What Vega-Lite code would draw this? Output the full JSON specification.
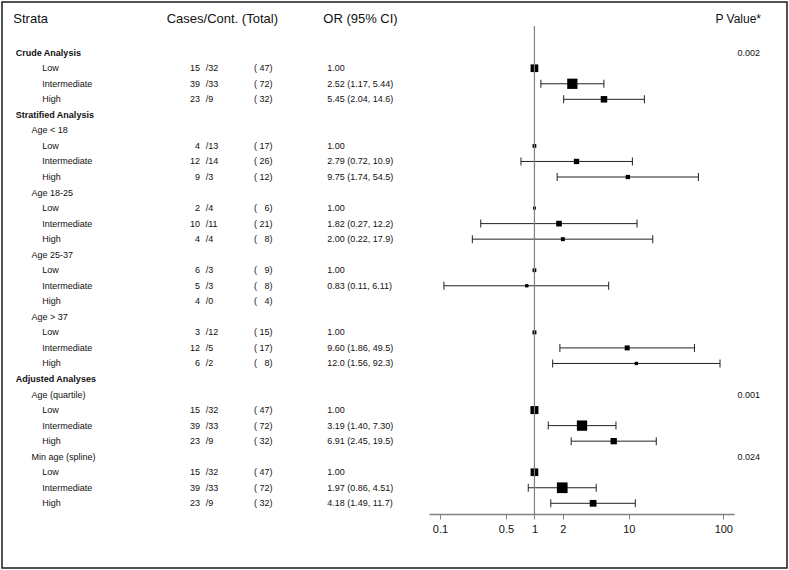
{
  "$schema": "https://vega.github.io/schema/vega-lite/v6.json",
  "width": 785,
  "height": 566,
  "autosize": {"type": "none"},
  "padding": {"left": 2, "top": 2, "right": 2, "bottom": 2},
  "background": "white",
  "config": {
    "view": {"stroke": "#1a1a1a", "strokeWidth": 1.5},
    "text": {"font": "Liberation Sans", "fontSize": 9, "baseline": "middle", "color": "#111111"}
  },
  "datasets": {
    "rows": [
      {"row": 1, "label": "Crude Analysis", "level": 0, "p": "0.002"},
      {"row": 2, "label": "Low", "level": 2, "cases": 15, "ctrl": 32, "total": 47, "or": 1, "orText": "1.00", "w": 0.72},
      {"row": 3, "label": "Intermediate", "level": 2, "cases": 39, "ctrl": 33, "total": 72, "or": 2.52, "lo": 1.17, "hi": 5.44, "orText": "2.52 (1.17, 5.44)", "w": 0.96},
      {"row": 4, "label": "High", "level": 2, "cases": 23, "ctrl": 9, "total": 32, "or": 5.45, "lo": 2.04, "hi": 14.6, "orText": "5.45 (2.04, 14.6)", "w": 0.61},
      {"row": 5, "label": "Stratified Analysis", "level": 0},
      {"row": 6, "label": "Age < 18", "level": 1},
      {"row": 7, "label": "Low", "level": 2, "cases": 4, "ctrl": 13, "total": 17, "or": 1, "orText": "1.00", "w": 0.35},
      {"row": 8, "label": "Intermediate", "level": 2, "cases": 12, "ctrl": 14, "total": 26, "or": 2.79, "lo": 0.72, "hi": 10.9, "orText": "2.79 (0.72, 10.9)", "w": 0.5},
      {"row": 9, "label": "High", "level": 2, "cases": 9, "ctrl": 3, "total": 12, "or": 9.75, "lo": 1.74, "hi": 54.5, "orText": "9.75 (1.74, 54.5)", "w": 0.4},
      {"row": 10, "label": "Age 18-25", "level": 1},
      {"row": 11, "label": "Low", "level": 2, "cases": 2, "ctrl": 4, "total": 6, "or": 1, "orText": "1.00", "w": 0.28},
      {"row": 12, "label": "Intermediate", "level": 2, "cases": 10, "ctrl": 11, "total": 21, "or": 1.82, "lo": 0.27, "hi": 12.2, "orText": "1.82 (0.27, 12.2)", "w": 0.53},
      {"row": 13, "label": "High", "level": 2, "cases": 4, "ctrl": 4, "total": 8, "or": 2.0, "lo": 0.22, "hi": 17.9, "orText": "2.00 (0.22, 17.9)", "w": 0.37},
      {"row": 14, "label": "Age 25-37", "level": 1},
      {"row": 15, "label": "Low", "level": 2, "cases": 6, "ctrl": 3, "total": 9, "or": 1, "orText": "1.00", "w": 0.35},
      {"row": 16, "label": "Intermediate", "level": 2, "cases": 5, "ctrl": 3, "total": 8, "or": 0.83, "lo": 0.11, "hi": 6.11, "orText": "0.83 (0.11, 6.11)", "w": 0.31},
      {"row": 17, "label": "High", "level": 2, "cases": 4, "ctrl": 0, "total": 4},
      {"row": 18, "label": "Age > 37", "level": 1},
      {"row": 19, "label": "Low", "level": 2, "cases": 3, "ctrl": 12, "total": 15, "or": 1, "orText": "1.00", "w": 0.37},
      {"row": 20, "label": "Intermediate", "level": 2, "cases": 12, "ctrl": 5, "total": 17, "or": 9.6, "lo": 1.86, "hi": 49.5, "orText": "9.60 (1.86, 49.5)", "w": 0.47},
      {"row": 21, "label": "High", "level": 2, "cases": 6, "ctrl": 2, "total": 8, "or": 12.0, "lo": 1.56, "hi": 92.3, "orText": "12.0 (1.56, 92.3)", "w": 0.31},
      {"row": 22, "label": "Adjusted Analyses", "level": 0},
      {"row": 23, "label": "Age (quartile)", "level": 1, "p": "0.001"},
      {"row": 24, "label": "Low", "level": 2, "cases": 15, "ctrl": 32, "total": 47, "or": 1, "orText": "1.00", "w": 0.75},
      {"row": 25, "label": "Intermediate", "level": 2, "cases": 39, "ctrl": 33, "total": 72, "or": 3.19, "lo": 1.4, "hi": 7.3, "orText": "3.19 (1.40, 7.30)", "w": 0.96},
      {"row": 26, "label": "High", "level": 2, "cases": 23, "ctrl": 9, "total": 32, "or": 6.91, "lo": 2.45, "hi": 19.5, "orText": "6.91 (2.45, 19.5)", "w": 0.59},
      {"row": 27, "label": "Min age (spline)", "level": 1, "p": "0.024"},
      {"row": 28, "label": "Low", "level": 2, "cases": 15, "ctrl": 32, "total": 47, "or": 1, "orText": "1.00", "w": 0.72},
      {"row": 29, "label": "Intermediate", "level": 2, "cases": 39, "ctrl": 33, "total": 72, "or": 1.97, "lo": 0.86, "hi": 4.51, "orText": "1.97 (0.86, 4.51)", "w": 1.0},
      {"row": 30, "label": "High", "level": 2, "cases": 23, "ctrl": 9, "total": 32, "or": 4.18, "lo": 1.49, "hi": 11.7, "orText": "4.18 (1.49, 11.7)", "w": 0.63}
    ],
    "headers": [
      {"h": "Strata", "col": "strata"},
      {"h": "Cases/Cont. (Total)", "col": "cases"},
      {"h": "OR (95% CI)", "col": "or"},
      {"h": "P Value*", "col": "p"}
    ],
    "ref": [{"ref": 1}]
  },
  "data": {"name": "rows"},
  "layer": [
    {
      "transform": [{"filter": "isValid(datum.lo)"}],
      "mark": {"type": "rule", "color": "#222222", "strokeWidth": 1},
      "encoding": {
        "y": {"field": "row", "type": "quantitative", "scale": {"domain": [1, 30], "range": [50.7, 501.3], "nice": false, "zero": false}, "axis": null},
        "x": {
          "field": "lo", "type": "quantitative", "title": null,
          "scale": {"type": "log", "domain": [0.07646, 129.8], "range": [427, 732], "nice": false, "zero": false},
          "axis": {
            "values": [0.1, 0.5, 1, 2, 10, 100], "format": "~g", "title": null, "offset": -54,
            "grid": false, "domainColor": "#808080", "domainWidth": 1.5,
            "tickColor": "#808080", "tickSize": 5, "tickWidth": 1,
            "labelFont": "Liberation Sans", "labelFontSize": 11, "labelColor": "#111111",
            "labelPadding": 4, "labelFlush": false, "labelOverlap": false
          }
        },
        "x2": {"field": "hi"}
      }
    },
    {
      "transform": [{"filter": "isValid(datum.lo)"}],
      "mark": {"type": "tick", "orient": "vertical", "size": 8, "thickness": 1, "color": "#222222", "opacity": 1},
      "encoding": {
        "y": {"field": "row", "type": "quantitative"},
        "x": {"field": "lo", "type": "quantitative", "title": null}
      }
    },
    {
      "transform": [{"filter": "isValid(datum.hi)"}],
      "mark": {"type": "tick", "orient": "vertical", "size": 8, "thickness": 1, "color": "#222222", "opacity": 1},
      "encoding": {
        "y": {"field": "row", "type": "quantitative"},
        "x": {"field": "hi", "type": "quantitative", "title": null}
      }
    },
    {
      "transform": [{"filter": "isValid(datum.or)"}],
      "mark": {"type": "point", "shape": "square", "filled": true, "color": "#000000", "opacity": 1, "strokeWidth": 0},
      "encoding": {
        "y": {"field": "row", "type": "quantitative"},
        "x": {"field": "or", "type": "quantitative", "title": null},
        "size": {"field": "w", "type": "quantitative", "scale": {"type": "pow", "exponent": 2, "domain": [0, 1], "range": [0, 114.5]}, "legend": null}
      }
    },
    {
      "data": {"name": "ref"},
      "mark": {"type": "rule", "color": "#808080", "strokeWidth": 1.2},
      "encoding": {
        "x": {"field": "ref", "type": "quantitative", "title": null},
        "y": {"datum": -0.72, "type": "quantitative"},
        "y2": {"datum": 30.69}
      }
    },
    {
      "transform": [{"filter": "datum.level == 0"}],
      "mark": {"type": "text", "align": "left", "fontWeight": "bold"},
      "encoding": {"y": {"field": "row", "type": "quantitative"}, "x": {"value": 13.7}, "text": {"field": "label"}}
    },
    {
      "transform": [{"filter": "datum.level == 1"}],
      "mark": {"type": "text", "align": "left"},
      "encoding": {"y": {"field": "row", "type": "quantitative"}, "x": {"value": 29.5}, "text": {"field": "label"}}
    },
    {
      "transform": [{"filter": "datum.level == 2"}],
      "mark": {"type": "text", "align": "left"},
      "encoding": {"y": {"field": "row", "type": "quantitative"}, "x": {"value": 40.3}, "text": {"field": "label"}}
    },
    {
      "transform": [{"filter": "isValid(datum.cases)"}],
      "mark": {"type": "text", "align": "right"},
      "encoding": {"y": {"field": "row", "type": "quantitative"}, "x": {"value": 198}, "text": {"field": "cases"}}
    },
    {
      "transform": [{"filter": "isValid(datum.ctrl)"}, {"calculate": "'/' + datum.ctrl", "as": "ctrlTxt"}],
      "mark": {"type": "text", "align": "left"},
      "encoding": {"y": {"field": "row", "type": "quantitative"}, "x": {"value": 203.7}, "text": {"field": "ctrlTxt"}}
    },
    {
      "transform": [{"filter": "isValid(datum.total)"}, {"calculate": "'(\u00a0' + (datum.total < 10 ? '\u00a0\u00a0' : '') + datum.total + ')'", "as": "totTxt"}],
      "mark": {"type": "text", "align": "left"},
      "encoding": {"y": {"field": "row", "type": "quantitative"}, "x": {"value": 252}, "text": {"field": "totTxt"}}
    },
    {
      "transform": [{"filter": "isValid(datum.orText)"}],
      "mark": {"type": "text", "align": "left"},
      "encoding": {"y": {"field": "row", "type": "quantitative"}, "x": {"value": 325.3}, "text": {"field": "orText"}}
    },
    {
      "transform": [{"filter": "isValid(datum.p)"}],
      "mark": {"type": "text", "align": "right"},
      "encoding": {"y": {"field": "row", "type": "quantitative"}, "x": {"value": 758}, "text": {"field": "p"}}
    },
    {
      "data": {"name": "headers"},
      "transform": [{"filter": "datum.col == 'strata'"}],
      "mark": {"type": "text", "align": "left", "fontSize": 13},
      "encoding": {"y": {"datum": -1.17, "type": "quantitative"}, "x": {"value": 11.3}, "text": {"field": "h"}}
    },
    {
      "data": {"name": "headers"},
      "transform": [{"filter": "datum.col == 'cases'"}],
      "mark": {"type": "text", "align": "left", "fontSize": 13},
      "encoding": {"y": {"datum": -1.17, "type": "quantitative"}, "x": {"value": 164.7}, "text": {"field": "h"}}
    },
    {
      "data": {"name": "headers"},
      "transform": [{"filter": "datum.col == 'or'"}],
      "mark": {"type": "text", "align": "left", "fontSize": 13},
      "encoding": {"y": {"datum": -1.17, "type": "quantitative"}, "x": {"value": 321.3}, "text": {"field": "h"}}
    },
    {
      "data": {"name": "headers"},
      "transform": [{"filter": "datum.col == 'p'"}],
      "mark": {"type": "text", "align": "right", "fontSize": 12},
      "encoding": {"y": {"datum": -1.17, "type": "quantitative"}, "x": {"value": 759}, "text": {"field": "h"}}
    }
  ]
}
